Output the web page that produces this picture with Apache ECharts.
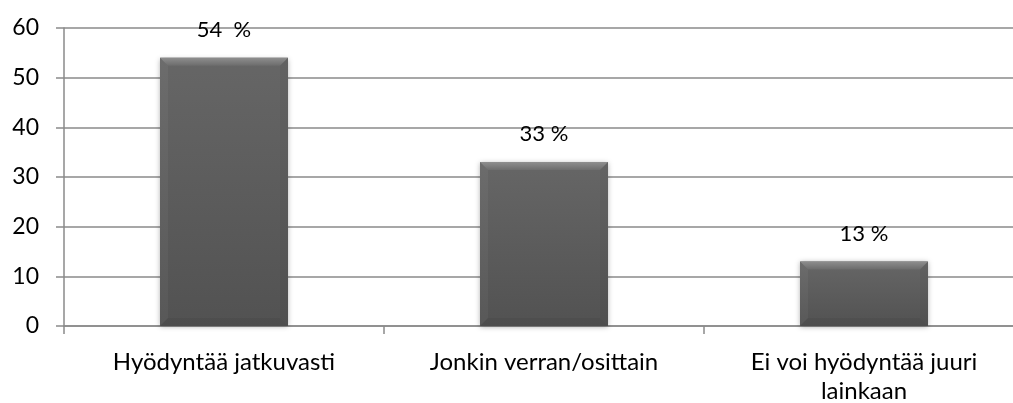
<!DOCTYPE html>
<html>
<head>
<meta charset="utf-8">
<script src="https://cdn.jsdelivr.net/npm/echarts@6/dist/echarts.min.js"></script>
<style>
html,body{margin:0;padding:0;background:#fff;overflow:hidden;width:1013px;height:403px;}
#c{width:1024px;height:403px;}
</style>
</head>
<body>
<div id="c"></div>
<script>
const categories = ['Hyödyntää jatkuvasti', 'Jonkin verran/osittain', 'Ei voi hyödyntää juuri\nlainkaan'];
const values = [54, 33, 13];
const valueLabels = ['54  %', '33 %', '13 %'];
const yTicks = [0, 10, 20, 30, 40, 50, 60];

const FONT = 'Lato, "Open Sans", sans-serif';
const chart = echarts.init(document.getElementById('c'), null, {renderer: 'canvas'});

function renderBar(params, api) {
  const idx = params.dataIndex;
  const v = api.value(1);
  const topPt = api.coord([api.value(0), v]);
  const basePt = api.coord([api.value(0), 0]);
  const w = api.size([1, 0])[0] * 0.4;
  const l = topPt[0] - w / 2, r = topPt[0] + w / 2, t = topPt[1], b = basePt[1];
  const bv = Math.min(8, (b - t) / 2);
  return {
    type: 'group',
    children: [
      {type: 'rect', shape: {x: l, y: t, width: w, height: b - t},
        style: {fill: new echarts.graphic.LinearGradient(0, 0, 0, 1, [{offset: 0, color: '#666666'}, {offset: 1, color: '#525252'}]),
          shadowBlur: 5, shadowColor: 'rgba(0,0,0,0.3)', shadowOffsetX: 0, shadowOffsetY: 1}},
      {type: 'polygon', shape: {points: [[l, t], [r, t], [r - bv, t + bv], [l + bv, t + bv]]},
        style: {fill: new echarts.graphic.LinearGradient(0, 0, 0, 1, [{offset: 0, color: '#8e8e8e'}, {offset: 1, color: '#6c6c6c'}])}},
      {type: 'polygon', shape: {points: [[l, t], [l + bv, t + bv], [l + bv, b - bv], [l, b]]},
        style: {fill: 'rgba(255,255,255,0.04)'}},
      {type: 'polygon', shape: {points: [[r, t], [r - bv, t + bv], [r - bv, b - bv], [r, b]]},
        style: {fill: 'rgba(0,0,0,0.03)'}},
      {type: 'polygon', shape: {points: [[l, b], [r, b], [r - bv, b - bv], [l + bv, b - bv]]},
        style: {fill: 'rgba(0,0,0,0.05)'}},
      {type: 'text', style: {text: valueLabels[idx], x: topPt[0], y: t - 17, align: 'center', verticalAlign: 'bottom',
        font: '22px ' + FONT, fill: '#000'}}
    ]
  };
}

chart.setOption({
  animation: false,
  grid: {left: 64, right: 0, top: 28, bottom: 77, containLabel: false, outerBoundsMode: 'none'},
  xAxis: {
    type: 'category',
    data: categories,
    axisLine: {show: true, lineStyle: {color: '#8a8a8a', width: 1.5}},
    axisTick: {show: true, length: 8, lineStyle: {color: '#8a8a8a', width: 1.5}},
    axisLabel: {color: '#000', fontSize: 24, fontFamily: FONT, margin: 22, lineHeight: 29}
  },
  yAxis: {
    type: 'value',
    min: yTicks[0], max: yTicks[yTicks.length - 1], interval: 10,
    axisLine: {show: true, lineStyle: {color: '#8a8a8a', width: 1.5}},
    axisTick: {show: true, length: 8, lineStyle: {color: '#8a8a8a', width: 1.5}},
    splitLine: {show: true, lineStyle: {color: '#8a8a8a', width: 1.5}},
    axisLabel: {color: '#000', fontSize: 23, fontFamily: FONT, margin: 25}
  },
  series: [{
    type: 'custom',
    renderItem: renderBar,
    data: values.map((v, i) => [i, v]),
    encode: {x: 0, y: 1},
    z: 3
  }]
});
</script>
</body>
</html>
